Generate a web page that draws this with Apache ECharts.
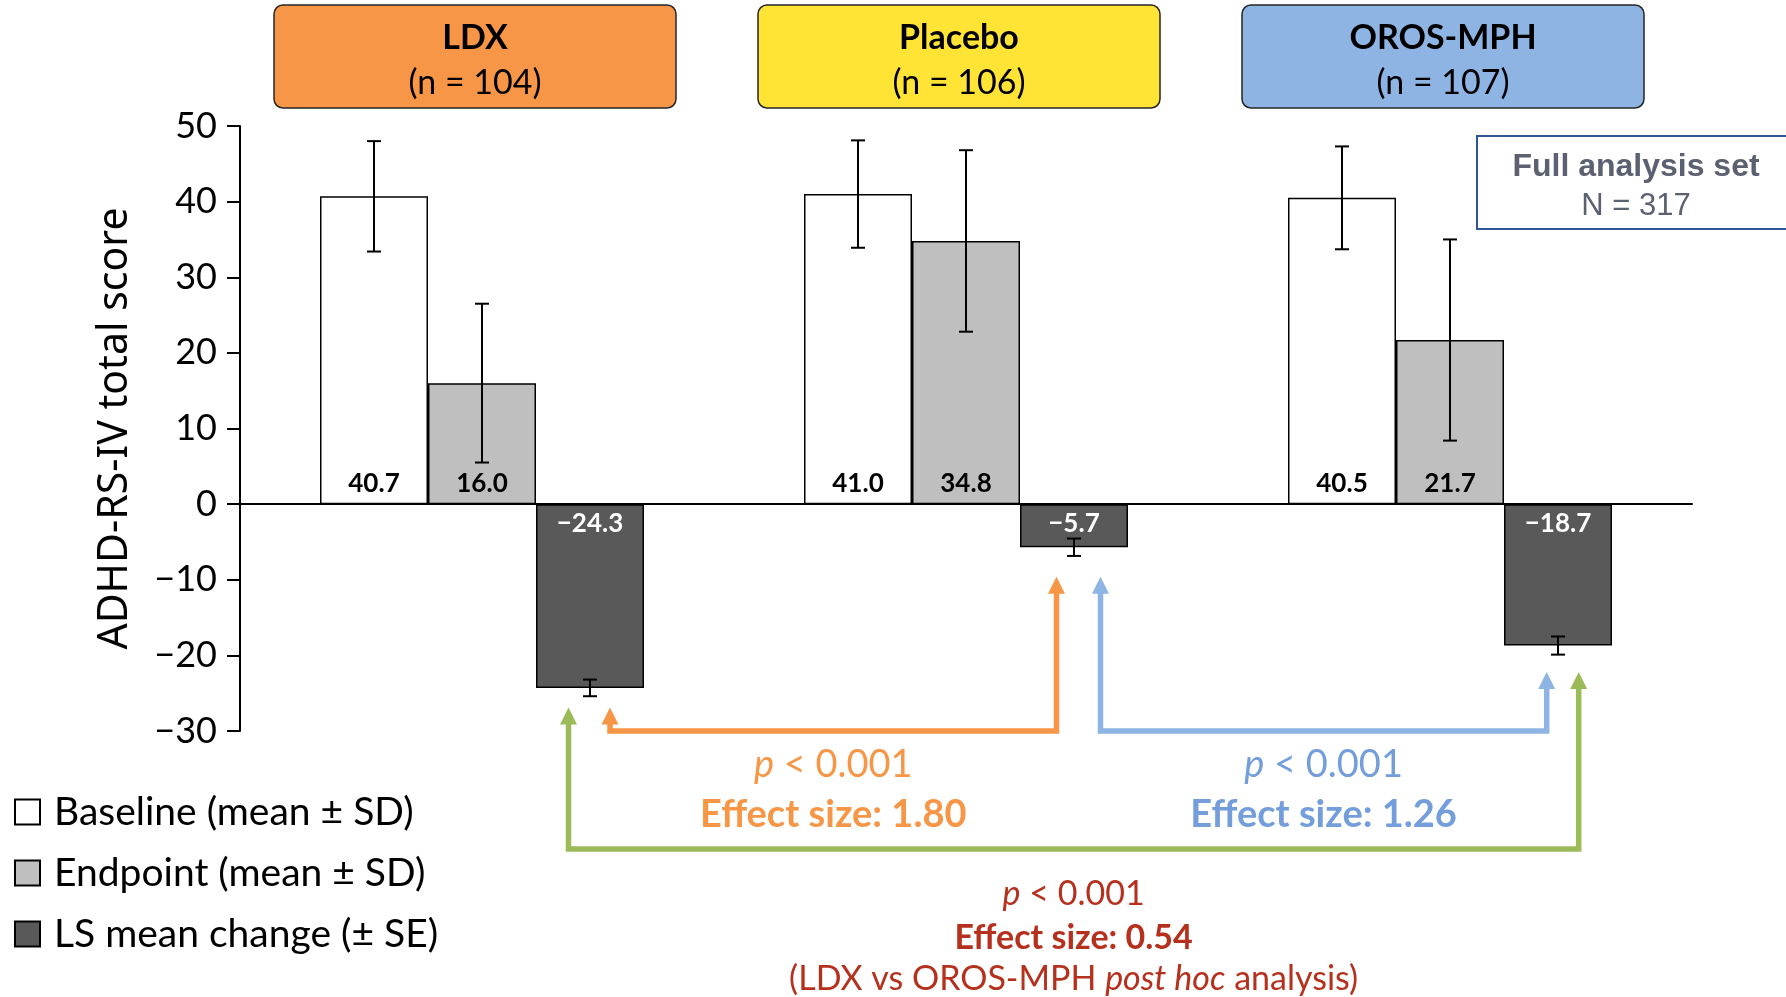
<!DOCTYPE html>
<html><head><meta charset="utf-8">
<script src="https://cdn.jsdelivr.net/npm/echarts@6/dist/echarts.min.js"></script>
<style>html,body{margin:0;padding:0;background:#fff}#c{width:1786px;height:997px}</style>
</head><body><div id="c"></div><script>
// ---------- data ----------
const categories = ['LDX', 'Placebo', 'OROS-MPH'];
const groupSizes = [104, 106, 107];
const seriesNames = ['Baseline (mean ± SD)', 'Endpoint (mean ± SD)', 'LS mean change (± SE)'];
const baselineMean = [40.7, 41.0, 40.5];
const baselineSD = [7.3, 7.1, 6.8];
const endpointMean = [16.0, 34.8, 21.7];
const endpointSD = [10.5, 12.0, 13.3];
const lsMeanChange = [-24.3, -5.7, -18.7];
const lsMeanSE = [1.1, 1.15, 1.2];
const yMin = -30, yMax = 50, yStep = 10;
const comparisonFrom = [0, 1, 0];
const comparisonTo = [1, 2, 2];
const comparisonP = ['0.001', '0.001', '0.001'];
const effectSizes = ['1.80', '1.26', '0.54'];
const comparisonNote = ['', '', 'LDX vs OROS-MPH|post hoc|analysis'];
const analysisSetN = 317;

// ---------- layout / style ----------
const BAR_W = 108;
const headerColors = ['#F79646', '#FFE335', '#8EB4E3'];
const arrowColors = ['#F79646', '#8DB4E2', '#9BBB59'];
const textColors = ['#F79646', '#739DDB', '#B5311D'];
const arrowTipValue = [-26.9, -9.6, -22.2];      // per category: where arrows point
const arrowLevelValue = [-30, -30, -45.6];        // horizontal connector level
const arrowFromOff = [20, 26.5, -21.5];
const arrowToOff = [-17.5, -11.3, 20.7];
const FONT = 'Lato';
const fmt = v => (v < 0 ? '\u2212' + Math.abs(v).toFixed(1) : v.toFixed(1));

const chart = echarts.init(document.getElementById('c'), null, {renderer: 'canvas'});

function errSeries(means, errs, offset) {
  return {
    type: 'custom', z: 5, silent: true,
    data: means.map((m, i) => [i, m, errs[i]]),
    encode: {x: 0, y: 1},
    renderItem: function (params, api) {
      const i = api.value(0), m = api.value(1), e = api.value(2);
      const t = api.coord([i, m + e]);
      const b = api.coord([i, m - e]);
      const x = t[0] + offset;
      const st = {stroke: '#000', lineWidth: 2};
      return {type: 'group', children: [
        {type: 'line', shape: {x1: x, y1: t[1], x2: x, y2: b[1]}, style: st},
        {type: 'line', shape: {x1: x - 7, y1: t[1], x2: x + 7, y2: t[1]}, style: st},
        {type: 'line', shape: {x1: x - 7, y1: b[1], x2: x + 7, y2: b[1]}, style: st}
      ]};
    }
  };
}

const barLabelBase = {show: true, fontFamily: FONT, fontWeight: 'bold', fontSize: 26, formatter: p => fmt(p.value)};

const option = {
  backgroundColor: '#fff',
  animation: false,
  grid: {left: 240, right: 94, top: 126, bottom: 266},
  legend: {
    data: seriesNames, orient: 'vertical', left: 14, top: 792, padding: 0,
    itemWidth: 25, itemHeight: 25, itemGap: 21, icon: 'rect', selectedMode: false,
    textStyle: {fontFamily: FONT, fontSize: 39, color: '#000', lineHeight: 40, padding: [0, 0, 0, 9]}
  },
  xAxis: {
    type: 'category', data: categories,
    axisLine: {onZero: true, lineStyle: {color: '#000', width: 2}},
    axisTick: {show: false}, axisLabel: {show: false}, splitLine: {show: false}
  },
  yAxis: {
    type: 'value', min: yMin, max: yMax, interval: yStep,
    name: 'ADHD-RS-IV total score', nameLocation: 'middle', nameGap: 104, nameRotate: 90,
    nameTextStyle: {fontFamily: 'Noto Sans', fontSize: 41, color: '#000'},
    axisLine: {show: true, lineStyle: {color: '#000', width: 2}},
    axisTick: {show: true, length: 13, lineStyle: {color: '#000', width: 2}},
    axisLabel: {margin: 23, fontFamily: FONT, fontSize: 36, color: '#000',
      formatter: v => (v < 0 ? '\u2212' + Math.abs(v) : String(v))},
    splitLine: {show: false}
  },
  series: [
    {name: seriesNames[0], type: 'bar', data: baselineMean, barWidth: BAR_W, barGap: '0%',
     itemStyle: {color: '#FFFFFF', borderColor: '#000', borderWidth: 1.5},
     label: Object.assign({position: 'insideBottom', distance: 8, color: '#000'}, barLabelBase)},
    {name: seriesNames[1], type: 'bar', data: endpointMean, barWidth: BAR_W, barGap: '0%',
     itemStyle: {color: '#BFBFBF', borderColor: '#000', borderWidth: 1.5},
     label: Object.assign({position: 'insideBottom', distance: 8, color: '#000'}, barLabelBase)},
    {name: seriesNames[2], type: 'bar', data: lsMeanChange, barWidth: BAR_W, barGap: '0%',
     itemStyle: {color: '#595959', borderColor: '#000', borderWidth: 1.5},
     label: Object.assign({position: 'insideTop', distance: 6, color: '#fff'}, barLabelBase)},
    errSeries(baselineMean, baselineSD, -BAR_W),
    errSeries(endpointMean, endpointSD, 0),
    errSeries(lsMeanChange, lsMeanSE, BAR_W)
  ]
};
chart.setOption(option);

// ---------- annotations ----------
const px = (ci, v) => chart.convertToPixel({xAxisIndex: 0, yAxisIndex: 0}, [categories[ci], v]);
const g = [];
categories.forEach((c, i) => {
  const cx = px(i, 0)[0] - 7;
  g.push({type: 'rect', shape: {x: cx - 201, y: 5, width: 402, height: 103, r: 9},
    style: {fill: headerColors[i], stroke: '#262626', lineWidth: 1.5}, z: 10});
  g.push({type: 'text', x: cx, y: 38, z: 11,
    style: {text: c, fontFamily: FONT, fontWeight: 'bold', fontSize: 34, fill: '#000', align: 'center', verticalAlign: 'middle'}});
  g.push({type: 'text', x: cx, y: 83, z: 11,
    style: {text: '(n = ' + groupSizes[i] + ')', fontFamily: FONT, fontSize: 34, fill: '#000', align: 'center', verticalAlign: 'middle'}});
});

// Full analysis set box
g.push({type: 'rect', shape: {x: 1477, y: 136, width: 330, height: 93},
  style: {fill: '#fff', stroke: '#2F5597', lineWidth: 2}, z: 10});
g.push({type: 'text', x: 1636, y: 167, z: 11,
  style: {text: 'Full analysis set', fontFamily: 'Liberation Sans', fontWeight: 'bold', fontSize: 32, fill: '#5B6170', align: 'center', verticalAlign: 'middle'}});
g.push({type: 'text', x: 1636, y: 206, z: 11,
  style: {text: 'N = ' + analysisSetN, fontFamily: 'Liberation Sans', fontSize: 31, fill: '#5B6170', align: 'center', verticalAlign: 'middle'}});

// comparison arrows
const HEAD = 17;
for (let k = 0; k < 3; k++) {
  const a = comparisonFrom[k], b = comparisonTo[k];
  const xa = px(a, 0)[0] + BAR_W + arrowFromOff[k];
  const xb = px(b, 0)[0] + BAR_W + arrowToOff[k];
  const ya = px(a, arrowTipValue[a])[1];
  const yb = px(b, arrowTipValue[b])[1];
  const yl = px(a, arrowLevelValue[k])[1];
  const col = arrowColors[k];
  g.push({type: 'polyline', z: 8, shape: {points: [[xa, ya + HEAD - 1], [xa, yl], [xb, yl], [xb, yb + HEAD - 1]]},
    style: {stroke: col, lineWidth: 5.5, fill: null, lineJoin: 'miter', lineCap: 'butt'}});
  [[xa, ya], [xb, yb]].forEach(p => g.push({type: 'polygon', z: 8,
    shape: {points: [[p[0] - 8.5, p[1] + HEAD], [p[0] + 8.5, p[1] + HEAD], [p[0], p[1]]]}, style: {fill: col}}));
  const xm = (xa + xb) / 2;
  const big = k < 2;
  const fs = big ? 38 : 34;
  const tc = textColors[k];
  g.push({type: 'text', x: xm, y: yl + (big ? 34 : 45), z: 11,
    style: {text: '{i|p} < ' + comparisonP[k], fontFamily: FONT, fontSize: fs, fill: tc, align: 'center', verticalAlign: 'middle',
      rich: {i: {fontStyle: 'italic', fontFamily: FONT, fontSize: fs, fill: tc}}}});
  g.push({type: 'text', x: xm, y: yl + (big ? 84 : 89), z: 11,
    style: {text: 'Effect size: ' + effectSizes[k], fontFamily: FONT, fontWeight: 'bold', fontSize: fs, fill: tc, align: 'center', verticalAlign: 'middle'}});
  if (comparisonNote[k]) {
    const parts = comparisonNote[k].split('|');
    g.push({type: 'text', x: xm, y: yl + 130, z: 11,
      style: {text: '(' + parts[0] + ' {i|' + parts[1] + '} ' + parts[2] + ')', fontFamily: FONT, fontSize: fs, fill: tc, align: 'center', verticalAlign: 'middle',
        rich: {i: {fontStyle: 'italic', fontFamily: FONT, fontSize: fs, fill: tc}}}});
  }
}
chart.setOption({graphic: g});
</script></body></html>
